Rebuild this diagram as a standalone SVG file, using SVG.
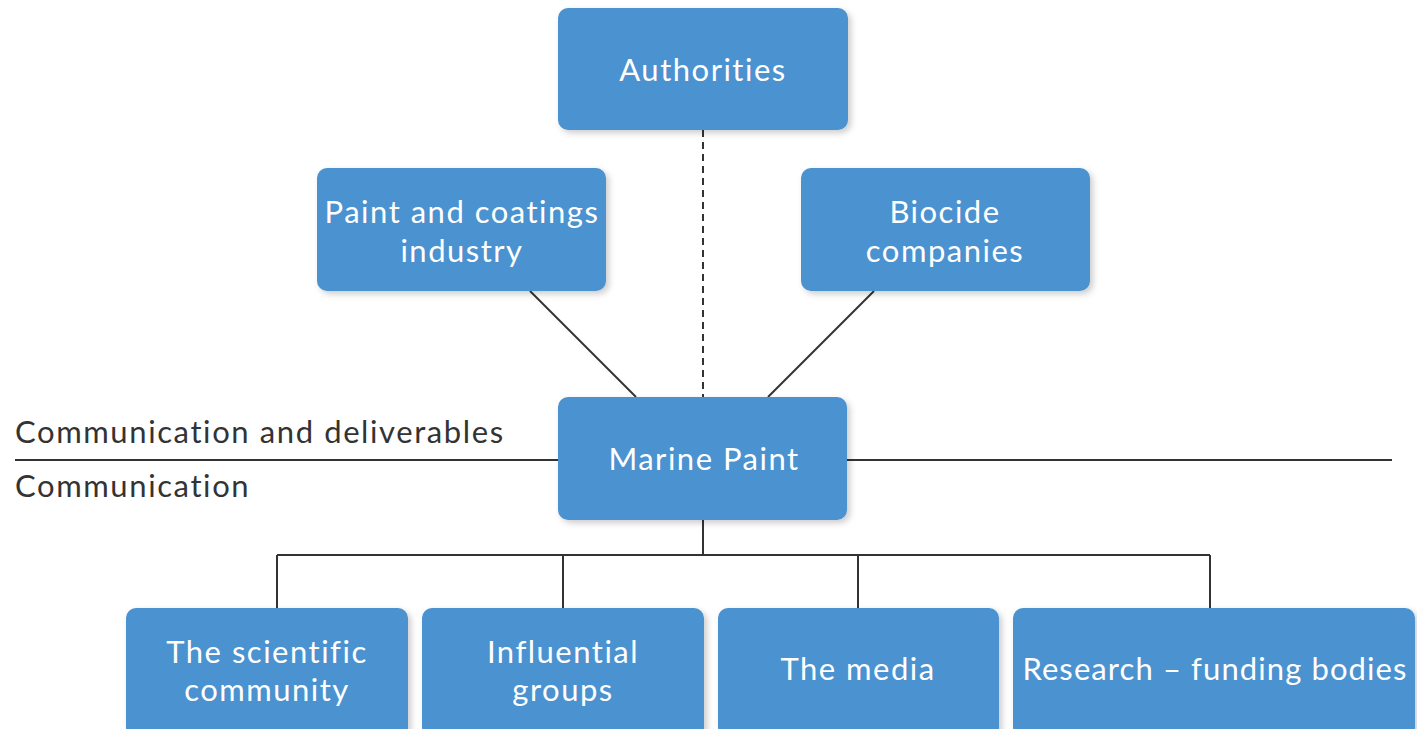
<svg xmlns="http://www.w3.org/2000/svg" width="1417" height="729" viewBox="0 0 1417 729">
<style>
.box{fill:#4b92d0;filter:url(#sh)}
.t{font-family:Lato,"Liberation Sans",sans-serif;font-size:31px;fill:#ffffff;text-anchor:middle;letter-spacing:1.5px}
.lbl{font-family:Lato,"Liberation Sans",sans-serif;font-size:31px;fill:#333333;letter-spacing:1.6px}
.ln{stroke:#333333;stroke-width:2;fill:none}
</style>
<defs>
<filter id="sh" x="-10%" y="-10%" width="130%" height="130%">
<feDropShadow dx="3" dy="3" stdDeviation="3" flood-color="#000" flood-opacity="0.2"/>
</filter>
</defs>
<rect width="1417" height="729" fill="#ffffff"/>
<g id="connectors">
<line class="ln" x1="703" y1="130" x2="703" y2="397" stroke-dasharray="7,5"/>
<line class="ln" x1="530" y1="291" x2="636" y2="397"/>
<line class="ln" x1="874" y1="291" x2="768" y2="397"/>
<line class="ln" x1="15" y1="460" x2="558" y2="460"/>
<line class="ln" x1="847" y1="460" x2="1392" y2="460"/>
<path class="ln" d="M703 520 V555 M277 555 H1210 M277 555 V608 M563 555 V608 M858 555 V608 M1210 555 V608"/>
</g>
<text class="lbl" x="15" y="443">Communication and deliverables</text>
<text class="lbl" x="15" y="497">Communication</text>
<g id="authorities">
<rect class="box" x="558" y="8" width="290" height="122" rx="10"/>
<text class="t" x="703" y="81">Authorities</text>
</g>
<g id="paint">
<rect class="box" x="317" y="168" width="289" height="123" rx="10"/>
<text class="t" x="462" y="223">Paint and coatings</text>
<text class="t" x="462" y="262">industry</text>
</g>
<g id="biocide">
<rect class="box" x="801" y="168" width="289" height="123" rx="10"/>
<text class="t" x="945" y="223">Biocide</text>
<text class="t" x="945" y="262">companies</text>
</g>
<g id="marine">
<rect class="box" x="558" y="397" width="289" height="123" rx="10"/>
<text class="t" x="704" y="470">Marine Paint</text>
</g>
<g id="scientific">
<rect class="box" x="126" y="608" width="282" height="130" rx="10"/>
<text class="t" x="267" y="663">The scientific</text>
<text class="t" x="267" y="701">community</text>
</g>
<g id="influential">
<rect class="box" x="422" y="608" width="282" height="130" rx="10"/>
<text class="t" x="563" y="663">Influential</text>
<text class="t" x="563" y="701">groups</text>
</g>
<g id="media">
<rect class="box" x="718" y="608" width="281" height="130" rx="10"/>
<text class="t" x="858" y="680">The media</text>
</g>
<g id="research">
<rect class="box" x="1013" y="608" width="402" height="130" rx="10"/>
<text class="t" x="1215" y="680" style="letter-spacing:1.1px">Research – funding bodies</text>
</g>
</svg>
